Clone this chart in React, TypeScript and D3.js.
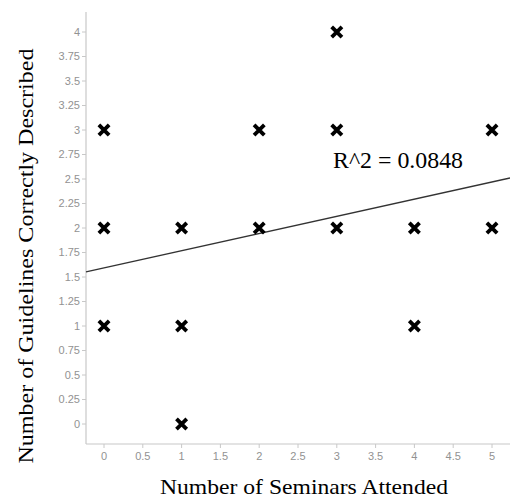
import React from "react";
import * as d3 from "d3";

const seminars = [0, 0, 0, 1, 1, 1, 2, 2, 3, 3, 3, 4, 4, 5, 5];
const guidelines = [3, 2, 1, 2, 1, 0, 3, 2, 4, 3, 2, 2, 1, 3, 2];
const fitIntercept = 1.592;
const fitSlope = 0.1755;
const rSquaredLabel = "R^2 = 0.0848";
const xTicks = [0, 0.5, 1, 1.5, 2, 2.5, 3, 3.5, 4, 4.5, 5];
const yTicks = [0, 0.25, 0.5, 0.75, 1, 1.25, 1.5, 1.75, 2, 2.25, 2.5, 2.75, 3, 3.25, 3.5, 3.75, 4];

const W = 510;
const H = 500;
const left = 86;
const right = 510;
const top = 12;
const bottom = 444;

export default function App() {
  const x = d3.scaleLinear().domain([0, 5]).range([104, 492]);
  const y = d3.scaleLinear().domain([0, 4]).range([424, 32]);
  const xMin = x.invert(left);
  const xMax = x.invert(right);
  const line = d3.line<number>()
    .x((d) => x(d))
    .y((d) => y(fitIntercept + fitSlope * d));
  const axisColor = "#c8c8c8";
  const tickText = "#929292";
  const serif = "Liberation Serif, Times New Roman, serif";
  return (
    <svg width={W} height={H} style={{ position: "absolute", left: 0, top: 0, background: "#fff" }}>
      <line x1={left} x2={left} y1={top} y2={bottom} stroke={axisColor} strokeWidth={1.2} />
      <line x1={left} x2={right} y1={bottom} y2={bottom} stroke={axisColor} strokeWidth={1.2} />
      {yTicks.map((t) => (
        <g key={"y" + t}>
          <line x1={left - 4} x2={left} y1={y(t)} y2={y(t)} stroke={axisColor} strokeWidth={1} />
          <text x={left - 6} y={y(t)} dy="0.35em" textAnchor="end" fontFamily="Liberation Sans, Arial, sans-serif" fontSize={11} fill={tickText}>
            {String(t)}
          </text>
        </g>
      ))}
      {xTicks.map((t) => (
        <g key={"x" + t}>
          <line x1={x(t)} x2={x(t)} y1={bottom} y2={bottom + 4} stroke={axisColor} strokeWidth={1} />
          <text x={x(t)} y={bottom + 16} textAnchor="middle" fontFamily="Liberation Sans, Arial, sans-serif" fontSize={11} fill={tickText}>
            {String(t)}
          </text>
        </g>
      ))}
      <path d={line([xMin, xMax]) || ""} fill="none" stroke="#333" strokeWidth={1.3} />
      {seminars.map((s, i) => (
        <path
          key={"p" + i}
          transform={`translate(${x(s)},${y(guidelines[i])})`}
          d="M-3.8,-3.8L3.8,3.8M-3.8,3.8L3.8,-3.8"
          stroke="#000"
          strokeWidth={3.8}
          strokeLinecap="square"
          fill="none"
        />
      ))}
      <text x={333} y={168} fontFamily={serif} fontSize={24} fill="#000" textLength={130} lengthAdjust="spacingAndGlyphs">
        {rSquaredLabel}
      </text>
      <text
        x={304}
        y={494}
        textAnchor="middle"
        fontFamily={serif}
        fontSize={21}
        fill="#000"
        textLength={288}
        lengthAdjust="spacingAndGlyphs"
      >
        Number of Seminars Attended
      </text>
      <text
        transform={`translate(33,256) rotate(-90)`}
        textAnchor="middle"
        fontFamily={serif}
        fontSize={21}
        fill="#000"
        textLength={415}
        lengthAdjust="spacingAndGlyphs"
      >
        Number of Guidelines Correctly Described
      </text>
    </svg>
  );
}
